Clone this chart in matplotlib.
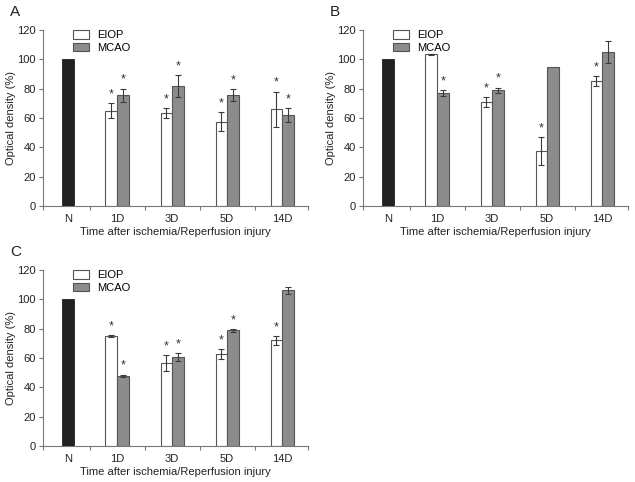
import matplotlib
matplotlib.use("Agg")
import matplotlib.pyplot as plt
from matplotlib.patches import Patch
import numpy as np

plt.rcParams['font.family'] = ['Liberation Sans', 'DejaVu Sans']

categories = ["N", "1D", "3D", "5D", "14D"]
series_names = ["EIOP", "MCAO"]
panel_labels = ["A", "B", "C"]
y_ticks = [0, 20, 40, 60, 80, 100, 120]
x_label = "Time after ischemia/Reperfusion injury"
y_label = "Optical density (%)"

normal_value = [100, 100, 100]

# Panel A
eiop_A = [65, 63.5, 57.5, 66]
eiop_A_err = [5, 3.5, 6.5, 12]
mcao_A = [75.5, 81.5, 75.5, 62]
mcao_A_err = [4.5, 7.5, 4, 4.5]
eiop_A_star = [True, True, True, True]
mcao_A_star = [True, True, True, True]

# Panel B
eiop_B = [103.5, 71, 37.5, 85]
eiop_B_err = [0.3, 3.5, 9.5, 3.3]
mcao_B = [77, 79, 94.8, 105]
mcao_B_err = [1.8, 1.7, 0, 7.5]
eiop_B_star = [False, True, True, True]
mcao_B_star = [True, True, False, False]

# Panel C
eiop_C = [75, 56.5, 62.5, 72]
eiop_C_err = [0.5, 5.7, 3.3, 3]
mcao_C = [48, 60.8, 78.8, 106.2]
mcao_C_err = [0.7, 2.6, 0.8, 2.4]
eiop_C_star = [True, True, True, True]
mcao_C_star = [True, True, True, False]

panels = [
    (eiop_A, eiop_A_err, mcao_A, mcao_A_err, eiop_A_star, mcao_A_star),
    (eiop_B, eiop_B_err, mcao_B, mcao_B_err, eiop_B_star, mcao_B_star),
    (eiop_C, eiop_C_err, mcao_C, mcao_C_err, eiop_C_star, mcao_C_star),
]

W, H = 635, 482
fig = plt.figure(figsize=(W / 100, H / 100), dpi=100)

ax_rects = [
    (43, 30, 308, 206),
    (363, 30, 628, 206),
    (43, 270, 308, 446),
]
label_pos = [(10, 12), (330, 12), (10, 252)]

axis_gray = "#777777"
edge_gray = "#555555"
mcao_color = "#8c8c8c"
err_color = "#3a3a3a"
fs = 8

centers = np.array([0.11, 1, 2, 3, 4])
bw = 0.21
xlim = (-0.345, 4.47)

for i, (rect, (e, ee, m, me, es, ms)) in enumerate(zip(ax_rects, panels)):
    x0, y0, x1, y1 = rect
    ax = fig.add_axes([x0 / W, 1 - y1 / H, (x1 - x0) / W, (y1 - y0) / H])
    ax.set_xlim(*xlim)
    ax.set_ylim(0, 120)
    # normal bar
    ax.bar(centers[0], normal_value[i], width=bw, color="#222222",
           edgecolor="#222222", linewidth=0.6)
    gx = centers[1:]
    xe = gx - bw / 2
    xm = gx + bw / 2
    ax.bar(xe, e, width=bw, color="white", edgecolor=edge_gray, linewidth=0.8,
           label=series_names[0], zorder=2)
    ax.bar(xm, m, width=bw, color=mcao_color, edgecolor=edge_gray, linewidth=0.8,
           label=series_names[1], zorder=2)
    for xs, vals, errs, stars in [(xe, e, ee, es), (xm, m, me, ms)]:
        for x, v, er, st in zip(xs, vals, errs, stars):
            if er > 0:
                ax.errorbar(x, v, yerr=er, fmt='none', ecolor=err_color,
                            elinewidth=0.8, capsize=2.3, capthick=0.8, zorder=3)
            if st:
                ax.annotate("*", (x, v + er), xytext=(0, 2.0),
                            textcoords="offset points", ha="center", va="bottom",
                            fontsize=9, color="#333333")
    for s in ["top", "right"]:
        ax.spines[s].set_visible(False)
    for s in ["left", "bottom"]:
        ax.spines[s].set_color(axis_gray)
        ax.spines[s].set_linewidth(0.8)
    ax.set_yticks(y_ticks)
    ax.set_xticks(centers)
    ax.set_xticklabels(categories)
    ax.set_xticks([xlim[0], 0.5, 1.5, 2.5, 3.5, xlim[1]], minor=True)
    ax.tick_params(axis="x", which="major", length=0, labelsize=fs, pad=6,
                   colors="#222222")
    ax.tick_params(axis="x", which="minor", length=3, color=axis_gray, width=0.8)
    ax.tick_params(axis="y", length=3, color=axis_gray, width=0.8, labelsize=fs,
                   pad=2, labelcolor="#222222")
    ax.set_xlabel(x_label, fontsize=fs, labelpad=2, color="#222222")
    ax.set_ylabel(y_label, fontsize=fs, color="#222222")
    ax.yaxis.set_label_coords(-0.1, 0.5)
    handles = [Patch(facecolor="white", edgecolor=edge_gray, linewidth=0.8),
               Patch(facecolor=mcao_color, edgecolor=edge_gray, linewidth=0.8)]
    ax.legend(handles, series_names, loc="upper left", bbox_to_anchor=(0.098, 1.025),
              frameon=False, fontsize=fs, handlelength=1.4, handleheight=0.8,
              handletextpad=0.7, labelspacing=0.25, borderaxespad=0)
    lx, ly = label_pos[i]
    fig.text(lx / W, 1 - ly / H, panel_labels[i], fontsize=11, ha="left",
             va="center", color="#222222")

fig.savefig("out.png", dpi=100)
